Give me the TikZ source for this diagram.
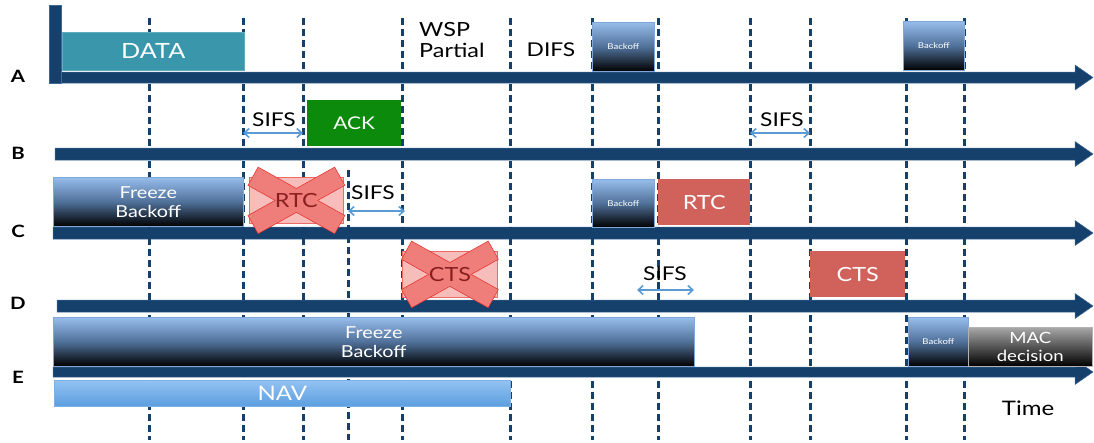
\documentclass[tikz,border=0pt]{standalone}
\usepackage{fontspec}
\setmainfont{Lato}[FakeStretch=1.2]
\usetikzlibrary{calc,arrows.meta}

\definecolor{navy}{HTML}{15406B}
\definecolor{navyedge}{HTML}{3C6898}
\definecolor{datateal}{HTML}{3A97AB}
\definecolor{ackgreen}{HTML}{0B8A0B}
\definecolor{rtsred}{HTML}{D0625B}
\definecolor{pinkfill}{HTML}{F7BDBB}
\definecolor{pinkedge}{HTML}{EE6A66}
\definecolor{crossfill}{HTML}{EF7E7B}
\definecolor{crossedge}{HTML}{E8302C}
\definecolor{crosstext}{HTML}{8A1F1F}
\definecolor{bluetop}{HTML}{97BDEC}
\definecolor{bluemid}{HTML}{4F7099}
\definecolor{blueedge}{HTML}{7FA7D9}
\definecolor{navtop}{HTML}{93C2F2}
\definecolor{navbot}{HTML}{5B9EE0}
\definecolor{graytop}{HTML}{A8A8A8}
\definecolor{sifsblue}{HTML}{5B9BD5}

\tikzset{
  axis/.style={fill=navy, draw=navyedge, line width=0.5pt},
  tick/.style={draw=navy, line width=3pt, dash pattern=on 7pt off 4pt},
  rowlbl/.style={font=\fontsize{17}{20}\selectfont\bfseries, inner sep=0pt},
  lbl/.style={font=\fontsize{19}{21}\selectfont, inner sep=0pt, align=left},
  cell/.style={anchor=north west, inner sep=0pt, text=white, align=center},
  databox/.style={cell, fill=datateal, draw=datateal!80!white, line width=0.6pt,
    font=\fontsize{21}{22}\selectfont},
  ackbox/.style={cell, fill=ackgreen, font=\fontsize{17.5}{20}\selectfont},
  redbox/.style={cell, fill=rtsred, font=\fontsize{19.5}{20}\selectfont},
  gradbox/.style={cell, top color=bluetop, bottom color=black, middle color=bluemid,
    draw=blueedge, line width=0.6pt},
  smallbo/.style={gradbox, font=\fontsize{8}{10}\selectfont\color{white!88!blue}},
  freezebox/.style={gradbox, font=\fontsize{16.5}{19}\selectfont},
  macbox/.style={cell, top color=graytop, bottom color=black, draw=gray!60,
    line width=0.6pt, font=\fontsize{15.5}{18}\selectfont},
  navbox/.style={cell, top color=navtop, bottom color=navbot, draw=navbot!80!white,
    line width=0.6pt, font=\fontsize{20}{21}\selectfont},
  lostbox/.style={cell, fill=pinkfill, draw=pinkedge, line width=0.8pt},
  losttext/.style={inner sep=0pt, text=crosstext, font=\fontsize{19.5}{20}\selectfont},
  armline/.style={draw=crossedge, line width=1.4pt},
  armfill/.style={fill=crossfill},
  sifs/.style={{Straight Barb[length=5pt,width=9pt]}-{Straight Barb[length=5pt,width=9pt]},
    draw=sifsblue, line width=1.6pt},
}

% one arm of a cross, 20pt wide, between two named points
\newcommand{\xarm}[3]{\path[#1] ($(#2)!10pt!90:(#3)$) -- ($(#3)!10pt!-90:(#2)$)
  -- ($(#3)!10pt!90:(#2)$) -- ($(#2)!10pt!-90:(#3)$) -- cycle;}

% a cross over the centre of a node
\newcommand{\crossover}[1]{%
  \coordinate (#1-p1) at ($(#1.center)+(-43,-24)$);
  \coordinate (#1-p2) at ($(#1.center)+(43,24)$);
  \coordinate (#1-p3) at ($(#1.center)+(-43,24)$);
  \coordinate (#1-p4) at ($(#1.center)+(43,-24)$);
  \xarm{armline}{#1-p1}{#1-p2}\xarm{armline}{#1-p3}{#1-p4}
  \xarm{armfill}{#1-p1}{#1-p2}\xarm{armfill}{#1-p3}{#1-p4}}

\begin{document}
\begin{tikzpicture}[x=1pt,y=-1pt]
\useasboundingbox (0,0) rectangle (1094,442);

% time axes of the five stations
\foreach \yt/\yb/\xs in {72/83/55, 148/160/55, 227/239/53, 300/312/57, 367/377/53}{
  \path[axis] (\xs,\yt) -- (1075,\yt) -- (1075,{(\yt+\yb)/2-12.5})
    -- (1093,{(\yt+\yb)/2}) -- (1075,{(\yt+\yb)/2+12.5}) -- (1075,\yb)
    -- (\xs,\yb) -- cycle;
}
\path[axis] (49,5) rectangle (61,83);

% station names
\node[rowlbl] (la) at (18,76) {A};
\node[rowlbl] (lb) at (18,153) {B};
\node[rowlbl] (lc) at (18,231) {C};
\node[rowlbl] (ld) at (18,303) {D};
\node[rowlbl] (le) at (18,377) {E};

% slot boundaries
\foreach \x [count=\i] in {149,243,303,348,402,510,592,658,750,810,906,964}{
  \coordinate (top\i) at (\x,18);
  \coordinate (bot\i) at (\x,440);
}
\coordinate (top4) at (348,170);
\foreach \i in {1,...,12}{ \draw[tick] (top\i) -- (bot\i); }

% station A
\node[databox, minimum width=182, minimum height=38] (data) at (62,32) {DATA};
\node[lbl, anchor=west, font=\fontsize{19.5}{21.5}\selectfont] (wsp) at (419,40) {WSP\\Partial};
\node[lbl] (difs) at (551,50) {DIFS};
\node[smallbo, minimum width=62, minimum height=49] (boa1) at (592,22) {Backoff};
\node[smallbo, minimum width=61, minimum height=49] (boa2) at (903,21) {Backoff};

% station B
\node[ackbox, minimum width=94, minimum height=46] (ack) at (307,100) {ACK};
\coordinate (sb1a) at (243,133); \coordinate (sb1b) at (303,133);
\draw[sifs] (sb1a) -- (sb1b);
\node[lbl] (sifsb1) at (274,120) {SIFS};
\coordinate (sb2a) at (750,133); \coordinate (sb2b) at (810,133);
\draw[sifs] (sb2a) -- (sb2b);
\node[lbl] (sifsb2) at (782,120) {SIFS};

% station C
\node[freezebox, minimum width=190, minimum height=49] (frzc) at (53,177) {Freeze\\Backoff};
\node[lostbox, minimum width=94, minimum height=46] (rtcx) at (249,177) {};
\crossover{rtcx}
\node[losttext] (rtcxl) at (rtcx.center) {RTC};
\coordinate (sca) at (348,211); \coordinate (scb) at (405,211);
\draw[sifs] (sca) -- (scb);
\node[lbl] (sifsc) at (373,193) {SIFS};
\node[smallbo, minimum width=62, minimum height=48] (boc) at (592,179) {Backoff};
\node[redbox, minimum width=92, minimum height=46] (rtc) at (658,179) {RTC};

% station D
\node[lostbox, minimum width=95, minimum height=46] (ctsx) at (402,251) {};
\crossover{ctsx}
\node[losttext] (ctsxl) at (ctsx.center) {CTS};
\coordinate (sda) at (637,290); \coordinate (sdb) at (694,290);
\draw[sifs] (sda) -- (sdb);
\node[lbl] (sifsd) at (665,274) {SIFS};
\node[redbox, minimum width=95, minimum height=46] (cts) at (810,251) {CTS};

% station E
\node[freezebox, minimum width=641, minimum height=49] (frze) at (53,317) {Freeze\\Backoff};
\node[smallbo, minimum width=60, minimum height=49] (boe) at (908,317) {Backoff};
\node[macbox, minimum width=124, minimum height=39] (mac) at (968,327) {MAC\\decision};
\node[navbox, minimum width=456, minimum height=26] (nav) at (54,380) {NAV};
\node[lbl, font=\fontsize{20}{22}\selectfont] (time) at (1028,408) {Time};
\end{tikzpicture}
\end{document}
